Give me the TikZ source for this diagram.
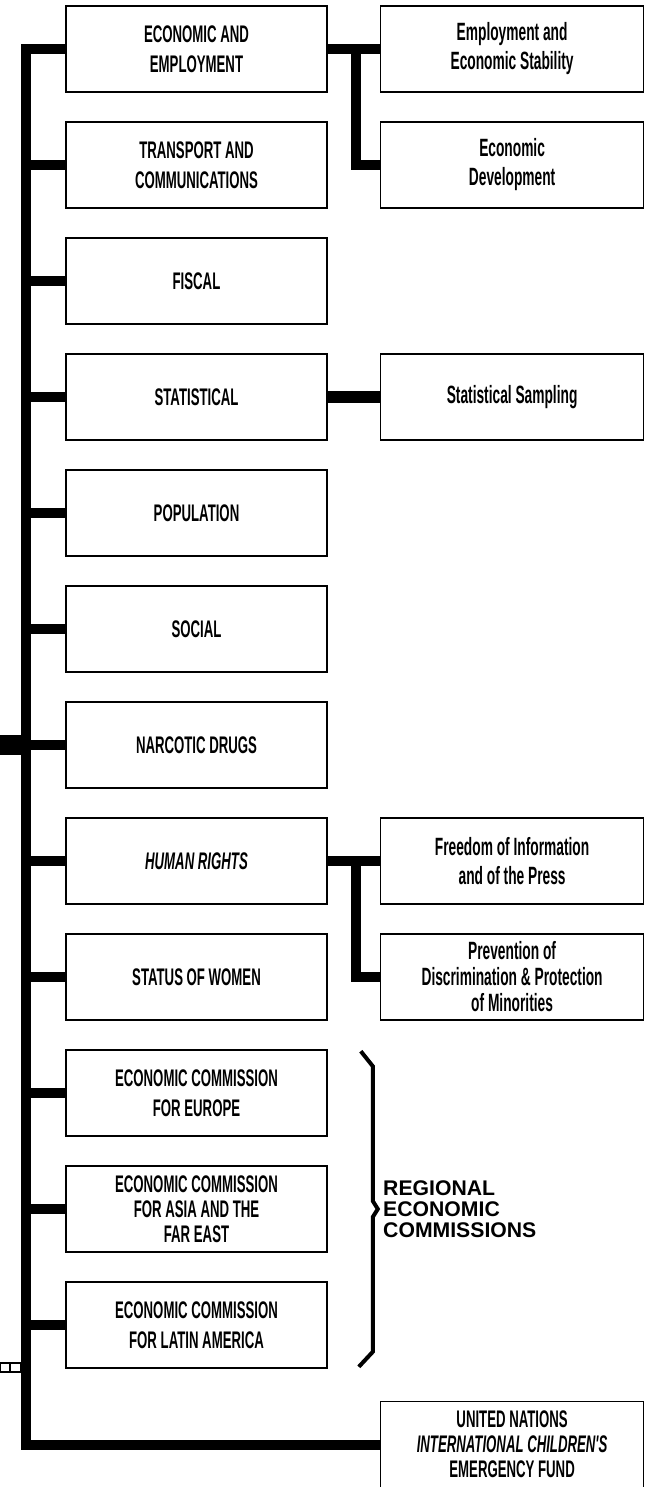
\documentclass[tikz,border=0pt]{standalone}
\usepackage{fontspec}
\setmainfont{Liberation Sans}
\newfontfamily\condfont{Liberation Sans}[FakeStretch=0.55]
\usetikzlibrary{positioning,calc}

\begin{document}
\begin{tikzpicture}[x=0.5pt, y=-0.5pt,
    unit/.style={rectangle, draw=black, line width=0.8pt, minimum width=130.5pt, minimum height=43pt, inner sep=1pt, align=center, font=\condfont\bfseries\fontsize{12}{15}\selectfont},
    sub/.style={unit, minimum width=131.5pt, font=\condfont\bfseries\fontsize{12.5}{14.5}\selectfont},
    link/.style={line width=5pt, line join=miter},
    brace/.style={line width=2pt, line join=miter}
]
\useasboundingbox (0,0) rectangle (654,1487);
\clip (0,0) rectangle (654,1487);

% Commissions
\node (econ) [unit] at (196.5,49) {ECONOMIC AND\\EMPLOYMENT};
\node (transport) [unit, below=14.2pt of econ] {TRANSPORT AND\\COMMUNICATIONS};
\node (fiscal) [unit, below=14.2pt of transport] {FISCAL};
\node (statistical) [unit, below=14.2pt of fiscal] {STATISTICAL};
\node (population) [unit, below=14.2pt of statistical] {POPULATION};
\node (social) [unit, below=14.2pt of population] {SOCIAL};
\node (narcotic) [unit, below=14.2pt of social] {NARCOTIC DRUGS};
\node (humanrights) [unit, below=14.2pt of narcotic] {\itshape HUMAN RIGHTS};
\node (women) [unit, below=14.2pt of humanrights] {STATUS OF WOMEN};
\node (ece) [unit, below=14.2pt of women] {ECONOMIC COMMISSION\\FOR EUROPE};
\node (ecafe) [unit, below=14.2pt of ece, font=\condfont\bfseries\fontsize{12}{12.5}\selectfont] {ECONOMIC COMMISSION\\FOR ASIA AND THE\\FAR EAST};
\node (ecla) [unit, below=14.2pt of ecafe] {ECONOMIC COMMISSION\\FOR LATIN AMERICA};

% Sub-commissions
\node (empstab) [sub, right=26pt of econ] {Employment and\\Economic Stability};
\node (devel) [sub, right=26pt of transport] {Economic\\Development};
\node (sampling) [sub, right=26pt of statistical] {Statistical Sampling};
\node (freedom) [sub, right=26pt of humanrights] {Freedom of Information\\and of the Press};
\node (prevention) [sub, right=26pt of women, font=\condfont\bfseries\fontsize{12.5}{13}\selectfont] {Prevention of\\Discrimination \& Protection\\of Minorities};
\coordinate (ucorner) at (prevention |- ecla.south);
\node (unicef) [sub, below=16pt of ucorner, font=\condfont\bfseries\fontsize{12}{12.5}\selectfont] {UNITED NATIONS\\{\itshape INTERNATIONAL CHILDREN'S}\\EMERGENCY FUND};

% Trunk
\coordinate (ttop) at ($(econ.west)+(-39,0)$);
\coordinate (tbot) at (ttop |- unicef.west);
\coordinate (origin) at (0,0);
\draw[link] (econ.west) -| (tbot) -- (unicef.west);
\foreach \n in {transport,fiscal,statistical,population,social,narcotic,humanrights,women,ece,ecafe,ecla}
  \draw[link] (\n.west) -- (\n.west -| ttop);
\draw[line width=10pt] (narcotic.west -| ttop) -- (narcotic.west -| origin);
\draw[line width=0.8pt] (0,1363) rectangle (21,1372) (10,1363) -- (10,1372);

% Branches
\coordinate (hx) at ($(econ.east)!0.55!(empstab.west)$);
\draw[link] (econ.east) -- (empstab.west);
\draw[link] (hx) |- (devel.west);
\draw[link, line width=6pt] (statistical.east) -- (sampling.west);
\coordinate (hr) at ($(humanrights.east)!0.55!(freedom.west)$);
\draw[link] (humanrights.east) -- (freedom.west);
\draw[link] (hr) |- (prevention.west);

% Brace
\coordinate (bt) at ($(ece.north east)+(33,2)$);
\coordinate (bb) at ($(ecla.south east)+(31,-2)$);
\coordinate (bm) at ($(ecafe.east)+(50,0)$);
\draw[brace] (bt) -- ++(12,15) -- ($(bm)+(-5,-8)$) -- (bm) -- ($(bm)+(-5,8)$) -- ($(bb)+(14,-15)$) -- (bb);
\node (regional) [anchor=west, align=left, inner sep=0pt, font=\bfseries\fontsize{10.6}{10.5}\selectfont] at ($(bm)+(5,0)$) {REGIONAL\\ECONOMIC\\COMMISSIONS};

\end{tikzpicture}
\end{document}
